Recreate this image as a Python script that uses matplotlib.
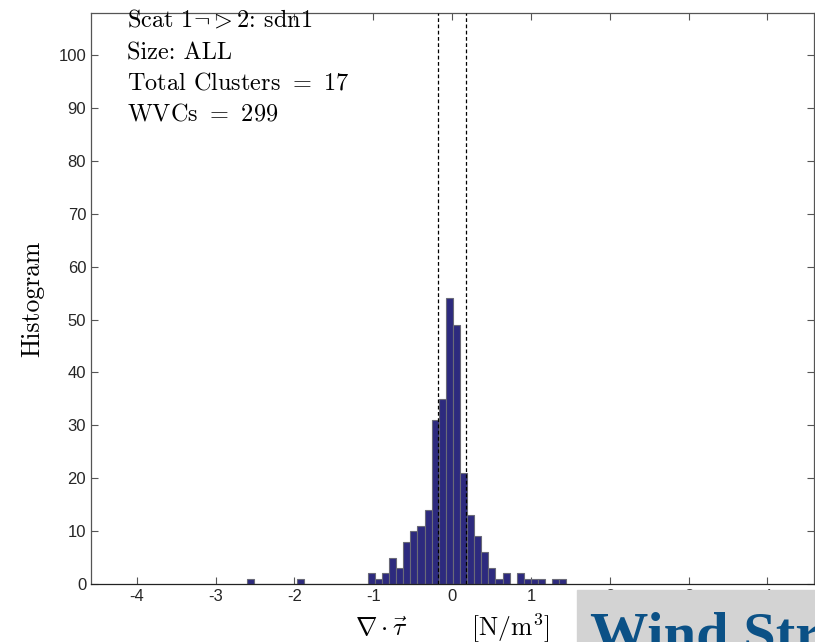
import numpy as np
import matplotlib
matplotlib.use("Agg")
import matplotlib.pyplot as plt

# histogram of wind-stress divergence, 45 bins of width 0.09 starting at -2.6
BIN_START = -2.6
BIN_WIDTH = 0.09
COUNTS = [1, 0, 0, 0, 0, 0, 0, 1, 0, 0, 0, 0, 0, 0, 0, 0, 0,
          2, 1, 2, 5, 3, 8, 10, 11, 14, 31, 35, 54, 49, 21, 13, 9, 6, 3, 1, 2, 0, 2, 1, 1, 1,
          0, 1, 1]
DASHED_X = [-0.185, 0.175]
INFO_LINES = [
    r"Scat 1$\neg > 2$: sdn1",
    "Size: ALL",
    r"Total Clusters $=$ 17",
    r"WVCs $=$ 299",
]
XTICKS = [-4, -3, -2, -1, 0, 1, 2, 3, 4]
YTICKS = list(range(0, 101, 10))

plt.rcParams["font.family"] = "serif"
plt.rcParams["font.serif"] = ["cmr10"]
plt.rcParams["mathtext.fontset"] = "cm"
plt.rcParams["axes.unicode_minus"] = False

fig = plt.figure(figsize=(8.15, 6.42), dpi=100)
ax = fig.add_axes([91 / 815, 1 - 584 / 642, (814 - 91) / 815, (584 - 12.7) / 642])

lefts = BIN_START + BIN_WIDTH * np.arange(len(COUNTS))
ax.bar(lefts, COUNTS, width=BIN_WIDTH, align="edge",
       color="#2d2a7e", edgecolor="#6a6a78", linewidth=0.8, zorder=2)

for x in DASHED_X:
    ax.axvline(x, color="black", linestyle=(0, (3, 2)), linewidth=0.9, zorder=3)

ax.set_xlim(-4.58, 4.59)
ax.set_ylim(0, 108)
ax.set_xticks(XTICKS)
ax.set_yticks(YTICKS)
ax.tick_params(direction="in", top=True, right=True, length=5, width=0.8,
               color="#555555", labelcolor="#262626", labelsize=12)
for lab in ax.get_xticklabels() + ax.get_yticklabels():
    lab.set_fontfamily("Liberation Sans")
for sp in ax.spines.values():
    sp.set_color("#555555")
    sp.set_linewidth(0.9)
ax.spines["bottom"].set_color("#222222")

ax.set_ylabel("Histogram", fontsize=18.5, labelpad=10)
ax.set_xlabel(r"$\nabla\cdot\vec{\tau}\qquad\quad[\mathrm{N/m}^3]$", fontsize=18.5, labelpad=6)

baselines = [26.7, 59, 90, 120.7]
for line, b in zip(INFO_LINES, baselines):
    fig.text(127 / 815, 1 - b / 642, line, fontsize=17.5, va="baseline", ha="left")

# cut-off slide banner at the bottom right
fig.patches.append(plt.Rectangle((577 / 815, 0), 1, (642 - 590) / 642,
                                 transform=fig.transFigure, color="#d3d3d3", zorder=0))
fig.text(590 / 815, 1 - 651 / 642, "Wind Stress", fontsize=42, fontweight="bold",
         family="Liberation Serif", color="#0b5186", va="baseline", ha="left")

fig.savefig("out.png", dpi=100)
